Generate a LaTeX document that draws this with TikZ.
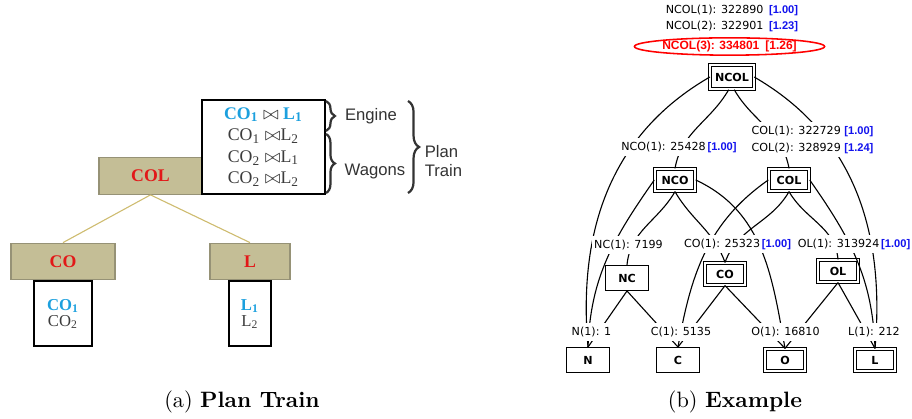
\documentclass[tikz,border=0pt]{standalone}
\usepackage{fontspec}
\newfontfamily\dejavu{DejaVu Sans}
\newfontfamily\libsans{Liberation Sans}
\newfontfamily\libserif{Liberation Serif}
\usetikzlibrary{positioning,shapes.geometric,decorations.pathreplacing}

\definecolor{olivefill}{RGB}{196,190,150}
\definecolor{olivedraw}{RGB}{150,146,118}
\definecolor{tanline}{RGB}{206,188,112}
\definecolor{relred}{RGB}{226,24,24}
\definecolor{relcyan}{RGB}{28,160,222}
\definecolor{rowgray}{RGB}{60,60,60}
\definecolor{tagblue}{RGB}{18,18,238}

\newcommand{\rk}[1]{{\libsans\bfseries\color{tagblue}[#1]}}
\newcommand{\hi}[1]{{\bfseries\color{relcyan}#1}}

\tikzset{
  rel/.style={draw=olivedraw, fill=olivefill, line width=0.5pt, minimum height=16.5pt,
              text=relred, font=\libserif\bfseries\fontsize{8}{9}\selectfont},
  vals/.style={draw, line width=0.9pt, align=center, text=rowgray, inner sep=0pt,
               font=\libserif\fontsize{7.5}{7.2}\selectfont},
  brc/.style={decorate, decoration={brace, amplitude=#1}, line width=1pt, draw=black!80},
  side/.style={font=\libsans\fontsize{7.5}{8.2}\selectfont, text=black!80, align=left},
  box/.style={draw, line width=0.45pt, fill=white, inner sep=1pt,
              minimum width=19pt, minimum height=11.2pt,
              font=\dejavu\bfseries\fontsize{5}{6}\selectfont},
  dbox/.style={box, double, double distance=0.8pt, minimum width=18.2pt, minimum height=10pt},
  link/.style={line width=0.5pt},
  lbl/.style={fill=white, inner xsep=1pt, inner ysep=1.8pt, align=left,
              font=\dejavu\fontsize{5}{7.6}\selectfont},
  best/.style={ellipse, draw=red, line width=0.7pt, inner sep=0pt,
               minimum width=79pt, minimum height=7.8pt, text=red,
               font=\libsans\bfseries\fontsize{5.4}{6}\selectfont},
  capt/.style={font=\fontsize{10}{12}\selectfont},
}

\begin{document}
\begin{tikzpicture}[x=0.45pt, y=-0.45pt]
  \useasboundingbox (0,0) rectangle (912,419);

  % (a) plan train
  \node[rel, minimum width=46.4pt] (pcol) at (150.5,176) {COL};
  \node[rel, minimum width=46.8pt] (pco) at (63,261.5) {CO};
  \node[rel, minimum width=36pt] (pl) at (250,261.5) {L};
  \node[vals, minimum width=25.7pt, minimum height=29.3pt, below=0pt of pco] (covals)
    {\hi{CO\textsubscript{1}}\\CO\textsubscript{2}};
  \node[vals, minimum width=18.5pt, minimum height=29.3pt, below=0pt of pl] (lvals)
    {\hi{L\textsubscript{1}}\\L\textsubscript{2}};
  \node[vals, minimum width=55.4pt, minimum height=42.3pt,
        font=\libserif\fontsize{8}{9.7}\selectfont] (train) at (263.5,147)
    {\hi{CO\textsubscript{1}} $\bowtie$ \hi{L\textsubscript{1}}\\
     CO\textsubscript{1} $\bowtie$L\textsubscript{2}\\
     CO\textsubscript{2} $\bowtie$L\textsubscript{1}\\
     CO\textsubscript{2} $\bowtie$L\textsubscript{2}};
  \draw[tanline, line width=0.5pt] (pcol.south) -- (pco.north);
  \draw[tanline, line width=0.5pt] (pcol.south) -- (pl.north);

  \coordinate (eng1) at (326,101);
  \coordinate (eng2) at (326,131);
  \coordinate (wag1) at (326,134);
  \coordinate (wag2) at (326,193);
  \coordinate (pt1) at (408,101);
  \coordinate (pt2) at (408,193);
  \draw[brc=4pt] (eng1) -- (eng2);
  \draw[brc=4pt] (wag1) -- (wag2);
  \draw[brc=5pt] (pt1) -- (pt2);
  \node[side] (engine) at (371,116) {Engine};
  \node[side] (wagons) at (375,172) {Wagons};
  \node[side, anchor=west] (plantrain) at (417,161) {Plan\\Train};

  % (b) example
  \node[dbox, minimum width=19.5pt, minimum height=11pt] (ncol) at (732,77) {NCOL};
  \node[dbox] (nco) at (675,180) {NCO};
  \node[dbox] (col) at (789,180) {COL};
  \node[box] (nc) at (627,278) {NC};
  \node[dbox] (co) at (725,274) {CO};
  \node[dbox] (ol) at (838,271) {OL};
  \node[box] (n) at (588,360) {N};
  \node[box] (c) at (678,360) {C};
  \node[dbox] (o) at (785,360) {O};
  \node[dbox] (l) at (875,360) {L};

  \draw[link] (ncol.west) to[out=210,in=95] (n.north);
  \draw[link] ([xshift=-1.5pt]ncol.south) to[out=240,in=80] (nco.north);
  \draw[link] ([xshift=1pt]ncol.south) to[out=300,in=100] (col.north);
  \draw[link] (ncol.east) to[out=330,in=85] (l.north);
  \draw[link] (nco.west) to[out=235,in=88] (n.north);
  \draw[link] (nco.south) to[out=240,in=85] (nc.north);
  \draw[link] (nco.south) to[out=300,in=110] (co.north);
  \draw[link] (nco.east) to[out=335,in=100] (o.north);
  \draw[link] (col.west) to[out=215,in=80] (c.north);
  \draw[link] (col.south) to[out=240,in=70] (co.north);
  \draw[link] (col.south) to[out=300,in=95] (ol.north);
  \draw[link] (col.east) to[out=305,in=92] (l.north);
  \foreach \a/\b in {nc/n, nc/c, co/c, co/o, ol/o, ol/l}
    \draw[link] (\a.south) -- (\b.north);

  \node[lbl] (lncol1) at (732,10) {NCOL(1): 322890\enspace\rk{1.00}};
  \node[lbl] (lncol2) at (732,26) {NCOL(2): 322901\enspace\rk{1.23}};
  \node[best] (lncol3) at (729.5,46.5) {NCOL(3): 334801\enspace[1.26]};
  \node[lbl] (lnco) at (679,147) {NCO(1): 25428\,\rk{1.00}};
  \node[lbl] (lcol) at (812.5,139.5) {COL(1): 322729 \rk{1.00}\\COL(2): 328929 \rk{1.24}};
  \node[lbl] (lnc) at (628.5,245) {NC(1): 7199};
  \node[lbl] (lco) at (737.5,244) {CO(1): 25323\,\rk{1.00}};
  \node[lbl] (lol) at (854,244) {OL(1): 313924\,\rk{1.00}};
  \node[lbl] (ln) at (591.5,332) {N(1): 1};
  \node[lbl] (lc) at (681,332) {C(1): 5135};
  \node[lbl] (lo) at (785.5,332) {O(1): 16810};
  \node[lbl] (ll) at (874,332) {L(1): 212};

  \node[capt] (capa) at (242,402) {(a) \textbf{Plan Train}};
  \node[capt] (capb) at (735,402) {(b) \textbf{Example}};
\end{tikzpicture}
\end{document}
